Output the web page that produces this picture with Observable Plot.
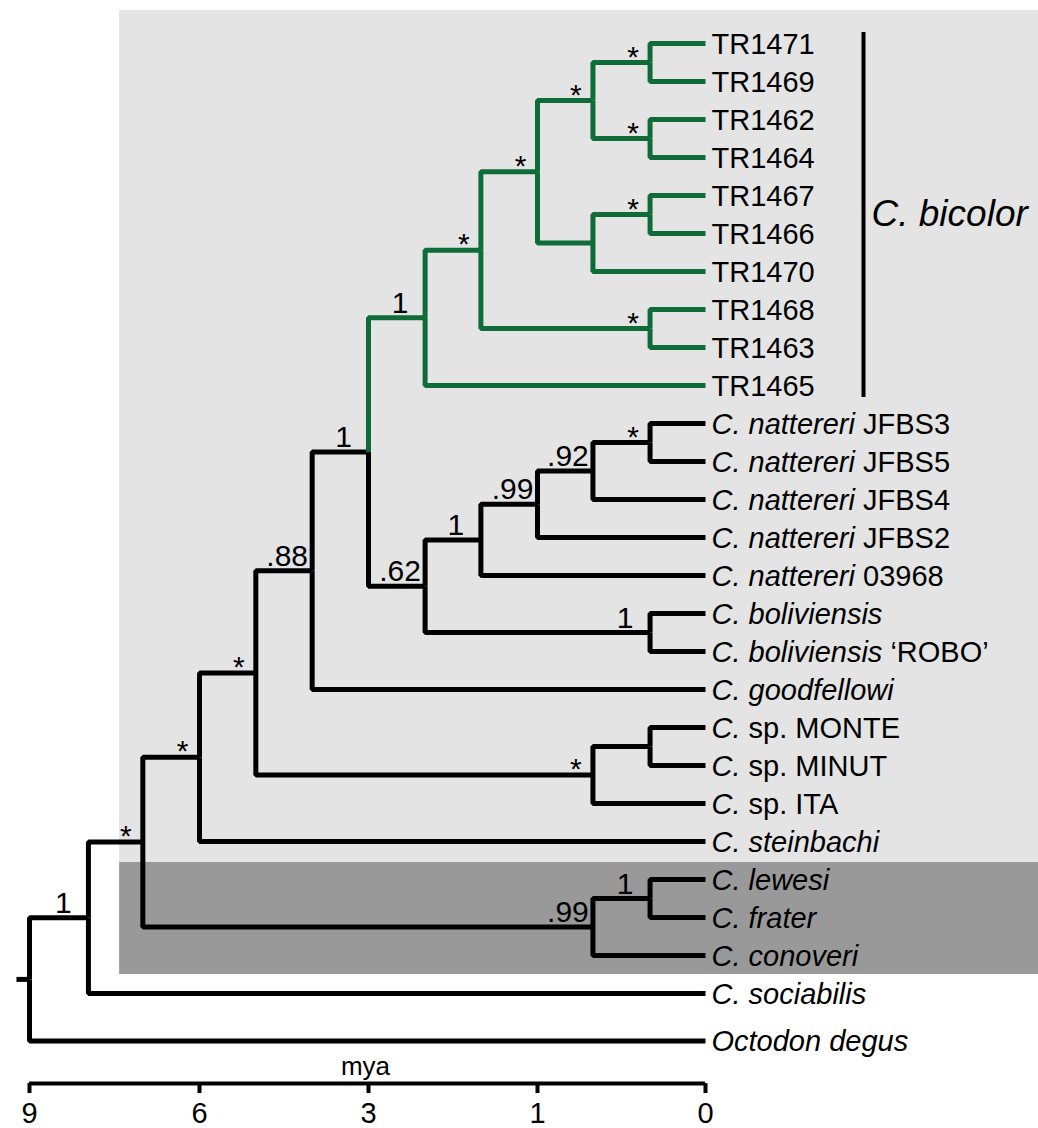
<!DOCTYPE html>
<html><head><meta charset="utf-8">
<script src="https://cdn.jsdelivr.net/npm/d3@7"></script>
<script src="https://cdn.jsdelivr.net/npm/@observablehq/plot@0.6"></script>
<style>
html,body{margin:0;padding:0;background:#fff;overflow:hidden;}
</style></head><body><div id="chart"></div>
<script>
// ---- tips (top to bottom) ----
const tipNames = ["TR1471","TR1469","TR1462","TR1464","TR1467","TR1466","TR1470","TR1468","TR1463","TR1465",
  "C. nattereri JFBS3","C. nattereri JFBS5","C. nattereri JFBS4","C. nattereri JFBS2","C. nattereri 03968",
  "C. boliviensis","C. boliviensis \u2018ROBO\u2019","C. goodfellowi","C. sp. MONTE","C. sp. MINUT","C. sp. ITA",
  "C. steinbachi","C. lewesi","C. frater","C. conoveri","C. sociabilis","Octodon degus"];
const tipItalic = ["","","","","","","","","","",
  "C. nattereri","C. nattereri","C. nattereri","C. nattereri","C. nattereri",
  "C. boliviensis","C. boliviensis","C. goodfellowi","C.","C.","C.",
  "C. steinbachi","C. lewesi","C. frater","C. conoveri","C. sociabilis","Octodon degus"];
const tipRows = [0,1,2,3,4,5,6,7,8,9,10,11,12,13,14,15,16,17,18,19,20,21,22,23,24,25,26.25];
const tipParents = ["L","L","M","M","N","N","K","I","I","BIC","R","R","Q","P","O","BOL","BOL","E",
  "MM","MM","SP","C","LF","LF","LFC","A","root"];

// ---- internal nodes ----
const nodeIds     = ["root","A","B","LFC","LF","C","D","SP","MM","E","F","BIC","G","H","J","L","M","K","N","I","NB","O","P","Q","R","BOL"];
const nodeParents = [null,"root","A","B","LFC","B","C","D","SP","D","E","F","BIC","G","H","J","J","H","K","G","F","NB","O","P","Q","NB"];
const nodeAges    = [9,7.96,7,0.67,0.33,6,5,0.67,0.33,4,3,2.33,1.67,1,0.67,0.33,0.33,0.67,0.33,0.33,2.33,1.67,1,0.67,0.33,0.33];
const nodeSupport = ["","1","*",".99","1","*","*","*","",".88","1","1","*","*","*","*","*","","*","*",".62","1",".99",".92","*","1"];
const rootStemAge = 9.23;

// ---- axis ----
const axisTicks = [9,6,3,1,0];
const axisTitle = "mya";

// ---- clade annotation & shading ----
const cladeLabel = "C. bicolor";
const cladeNode = "BIC";
const cladeTips = ["TR1471","TR1465"];
const shadeLeftAge = 7.41;
const shadeLight = ["TR1471","C. steinbachi"];
const shadeDark = ["C. lewesi","C. conoveri"];

const GREEN = "#0f6b38", BLACK = "#000";
const FONT = "'Liberation Sans', Arial, Helvetica, sans-serif";

// ---- build tree ----
const nodes = new Map();
nodeIds.forEach((id,i)=>nodes.set(id,{id,parent:nodeParents[i],age:nodeAges[i],support:nodeSupport[i],children:[]}));
tipNames.forEach((name,i)=>nodes.set(name,{id:name,parent:tipParents[i],age:0,row:tipRows[i],tip:true,children:[]}));
for (const n of nodes.values()) if (n.parent) nodes.get(n.parent).children.push(n);
function rowOf(n){ if (n.row === undefined){ const r = n.children.map(rowOf); n.row = (d3.min(r)+d3.max(r))/2; } return n.row; }
const root = nodes.get("root");
rowOf(root);
function inClade(n){ for (let c = n; c; c = c.parent ? nodes.get(c.parent) : null) if (c.id === cladeNode) return true; return false; }

const edgePts = [];
for (const n of nodes.values()) {
  if (!n.parent) continue;
  const p = nodes.get(n.parent);
  const color = inClade(n) ? GREEN : BLACK;
  edgePts.push({id:n.id,x:p.age,y:p.row,color},{id:n.id,x:p.age,y:n.row,color},{id:n.id,x:n.age,y:n.row,color});
}
edgePts.push({id:"stem",x:rootStemAge,y:root.row,color:BLACK},{id:"stem",x:root.age,y:root.row,color:BLACK});

const internal = [...nodes.values()].filter(n=>!n.tip && n.support);
const digitLabels = internal.filter(n=>n.support !== "*");
const starLabels = internal.filter(n=>n.support === "*");
const tips = [...nodes.values()].filter(n=>n.tip);
const rowByName = name => nodes.get(name).row;

const axisRow = 27.37;

const chart = Plot.plot({
  width: 1038, height: 1128,
  marginTop: 0, marginRight: 0, marginBottom: 0, marginLeft: 0,
  style: {fontFamily: FONT, background: "white", overflow: "hidden"},
  x: {type: "linear", domain: [9,6,3,1,0], range: [29,199,368,537,705], axis: null},
  y: {type: "linear", domain: [0, 26.25], range: [43, 1040.5], axis: null},
  color: {type: "identity"},
  marks: [
    Plot.rect([{a: shadeLight[0], b: shadeLight[1]}], {
      x1: shadeLeftAge, x2: -2, y1: d=>rowByName(d.a)-0.5, y2: d=>rowByName(d.b)+0.5,
      fill: "#e4e4e4", insetTop: -14, insetBottom: -2
    }),
    Plot.rect([{a: shadeDark[0], b: shadeDark[1]}], {
      x1: shadeLeftAge, x2: -2, y1: d=>rowByName(d.a)-0.5, y2: d=>rowByName(d.b)+0.5,
      fill: "#999999", insetTop: 2
    }),
    Plot.line(edgePts, {x:"x", y:"y", z:"id", stroke:"color", strokeWidth:5,
      strokeLinejoin:"miter", strokeLinecap:"butt", curve:"linear"}),
    Plot.text(digitLabels, {x:"age", y:"row", text:"support", textAnchor:"middle",
      lineAnchor:"bottom", dx:-25, dy:-5, fontSize:30, fill:BLACK}),
    Plot.text(starLabels, {x:"age", y:"row", text:"support", textAnchor:"middle",
      lineAnchor:"bottom", dx:-17, dy:4, fontSize:30, fill:BLACK}),
    Plot.text(tips, {x:"age", y:"row", text:"id", textAnchor:"start", lineAnchor:"middle",
      dx:6, dy:1, fontSize:29, fill:BLACK}),
    // clade bar and label
    Plot.ruleX([cladeTips], {x: 0, y1: d=>rowByName(d[0]), y2: d=>rowByName(d[1]),
      dx: 158, insetTop: -11, insetBottom: -12, stroke: BLACK, strokeWidth: 4}),
    Plot.text([cladeTips], {x: 0, y: d=>(rowByName(d[0])+rowByName(d[1]))/2, text: ()=>cladeLabel,
      textAnchor:"start", lineAnchor:"middle", dx:166, fontSize:37, fontStyle:"italic", fill:BLACK}),
    // axis
    Plot.ruleY([axisRow], {x1: axisTicks[0], x2: axisTicks[axisTicks.length-1], stroke: BLACK, strokeWidth: 4}),
    Plot.ruleX(axisTicks, {x: d=>d, y1: axisRow, y2: axisRow, insetBottom: -10, stroke: BLACK, strokeWidth: 4}),
    Plot.text(axisTicks, {x: d=>d, y: axisRow, text: d=>String(d), lineAnchor:"top", dy: 19, fontSize: 29, fill: BLACK}),
    Plot.text([axisTitle], {x: 3, y: axisRow, text: d=>d, lineAnchor:"bottom", dx:-3, dy:-9, fontSize: 26, fill: BLACK})
  ]
});

// mixed italic / upright tip labels
const NS = "http://www.w3.org/2000/svg";
chart.querySelectorAll("text").forEach(t => {
  const i = tipNames.indexOf(t.textContent);
  if (i < 0) return;
  const full = tipNames[i], it = tipItalic[i];
  t.textContent = "";
  if (it) { const a = document.createElementNS(NS, "tspan"); a.setAttribute("font-style","italic"); a.textContent = it; t.appendChild(a); }
  const rest = full.slice(it.length);
  if (rest) { const b = document.createElementNS(NS, "tspan"); b.textContent = rest; t.appendChild(b); }
});
document.getElementById("chart").appendChild(chart);
</script></body></html>
